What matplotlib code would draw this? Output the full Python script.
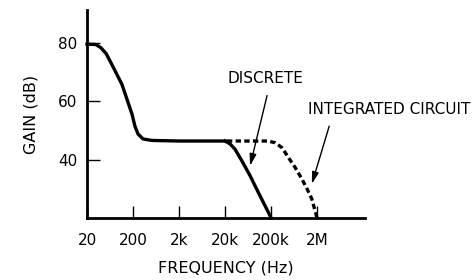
import matplotlib.pyplot as plt

# gain curve shared by both amplifiers (Hz, dB)
common_freq = [20, 31, 40, 52, 66, 85, 115, 148, 190, 220, 257, 330, 517, 2000, 20000]
common_gain = [79.6, 79.5, 78.4, 76.4, 73.3, 69.9, 65.8, 60.7, 55.6, 51.5, 48.8, 47.1, 46.6, 46.4, 46.4]

discrete_freq = [20000, 25700, 32900, 46400, 70000, 104000, 148000, 190000, 200000]
discrete_gain = [46.4, 45.4, 43.6, 39.6, 34.5, 29.0, 24.2, 20.8, 20.0]

ic_freq = [22000, 172000, 246000, 346000, 469000, 656000, 935000, 1210000, 1530000, 2000000]
ic_gain = [46.4, 46.4, 45.8, 44.1, 40.9, 37.5, 33.4, 30.0, 26.6, 20.0]

xticks = [20, 200, 2e3, 2e4, 2e5, 2e6]
xticklabels = ['20', '200', '2k', '20k', '200k', '2M']
yticks = [40, 60, 80]

plt.rcParams['font.family'] = 'DejaVu Sans'
fig = plt.figure(figsize=(4.77, 2.80), dpi=100)
ax = fig.add_axes([0.1824, 0.2214, 0.5828, 0.7426])

style = dict(color='black', lw=2.4, solid_joinstyle='round', clip_on=False)
ax.plot(common_freq, common_gain, **style)
ax.plot(discrete_freq, discrete_gain, **style)
ax.plot(ic_freq, ic_gain, color='black', lw=2.4, linestyle=(0, (1.6, 1.0)), clip_on=False)

ax.set_xscale('log')
ax.set_xlim(20, 2.2e7)
ax.set_ylim(20, 91.3)
ax.set_xticks(xticks)
ax.set_xticklabels(xticklabels)
ax.set_yticks(yticks)
ax.minorticks_off()

for side in ['top', 'right']:
    ax.spines[side].set_visible(False)
for side in ['left', 'bottom']:
    ax.spines[side].set_linewidth(2)
ax.tick_params(axis='both', direction='in', length=9, width=1, labelsize=11)
ax.tick_params(axis='x', pad=11)
ax.tick_params(axis='y', pad=7)

ax.set_xlabel('FREQUENCY (Hz)', fontsize=11.5, labelpad=9)
ax.set_ylabel('GAIN (dB)', fontsize=11.5, labelpad=14)

arrow = dict(arrowstyle='-|>,head_length=0.7,head_width=0.2', color='black', lw=1, shrinkA=0, shrinkB=0)
ax.text(1.48e5, 67.8, 'DISCRETE', fontsize=11, ha='center', va='center')
ax.annotate('', xy=(7.0e4, 37.9), xytext=(1.64e5, 62.0), arrowprops=arrow)
ax.text(1.26e6, 57.3, 'INTEGRATED CIRCUIT', fontsize=11, ha='left', va='center')
ax.annotate('', xy=(1.54e6, 31.7), xytext=(3.67e6, 51.5), arrowprops=arrow, annotation_clip=False)

fig.savefig('out.png', dpi=100)
